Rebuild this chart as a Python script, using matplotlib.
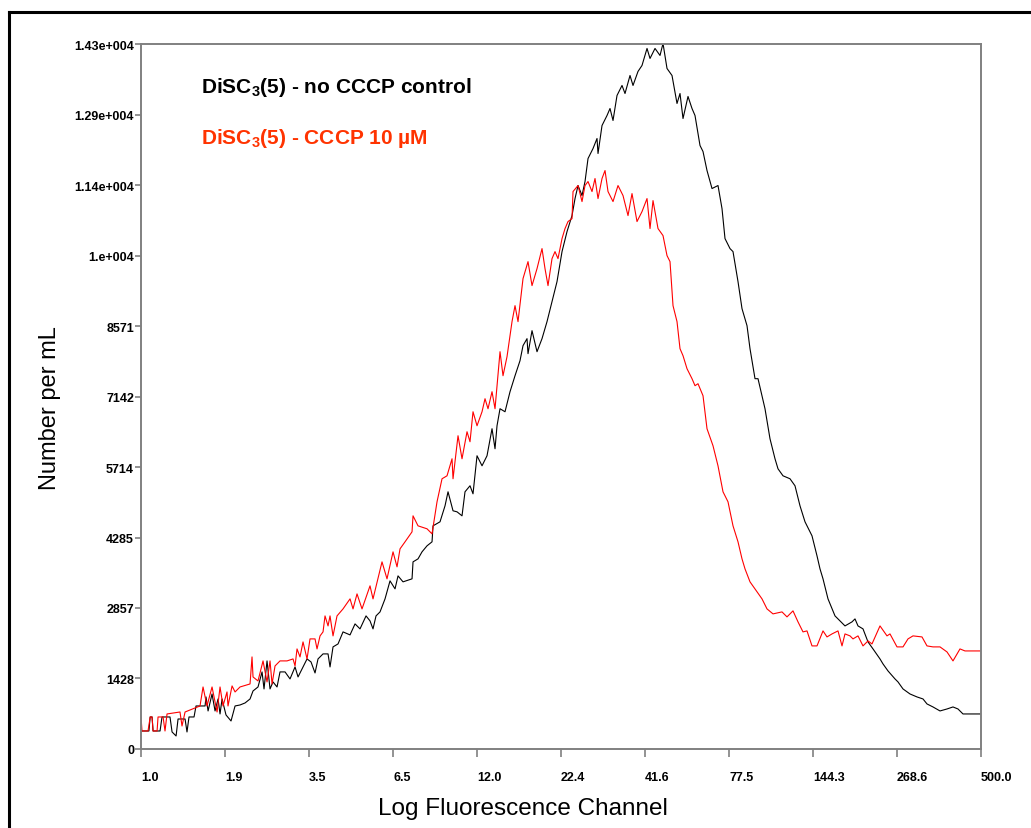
import matplotlib
matplotlib.use('Agg')
import matplotlib.pyplot as plt
from matplotlib.lines import Line2D

# histogram traces (channel, number per mL)
control_channel = [
    1.00, 1.03, 1.06, 1.07, 1.085, 1.093, 1.151, 1.168, 1.239, 1.258, 1.296, 1.315, 1.385, 1.405,
    1.426, 1.480, 1.502, 1.606, 1.617, 1.642, 1.691, 1.729, 1.768, 1.794, 1.821, 1.875, 1.946,
    2.005, 2.080, 2.159, 2.240, 2.290, 2.376, 2.448, 2.484, 2.540, 2.597, 2.655, 2.735, 2.796,
    2.902, 3.011, 3.125, 3.195, 3.266, 3.415, 3.517, 3.623, 3.704, 3.844, 3.989, 4.048, 4.139,
    4.295, 4.457, 4.694, 4.871, 5.054, 5.284, 5.442, 5.564, 5.689, 5.860, 6.081, 6.310, 6.548,
    6.695, 6.947, 7.426, 7.481, 7.763, 7.996, 8.297, 8.610, 8.674, 9.135, 9.479, 9.692, 10.057,
    10.359, 10.749, 10.990, 11.404, 11.660, 12.011, 12.464, 12.933, 13.421, 13.722, 13.926,
    14.239, 14.775, 15.332, 15.910, 16.509, 16.880, 17.387, 17.516, 18.042, 18.722, 19.427,
    20.159, 20.919, 21.707, 22.527, 23.376, 24.257, 24.801, 25.358, 26.119, 26.705, 27.305,
    28.334, 29.184, 29.401, 30.284, 31.425, 32.130, 32.852, 33.838, 35.113, 35.901, 37.254,
    38.090, 39.525, 40.712, 42.249, 43.197, 44.824, 46.513, 47.557, 48.985, 50.831, 52.746,
    53.930, 55.141, 57.218, 58.937, 60.259, 62.530, 63.934, 65.853, 68.335, 71.436, 73.581,
    75.232, 78.072, 79.824, 82.832, 85.319, 88.534, 90.521, 93.931, 96.039, 98.924, 101.14,
    104.95, 108.91, 111.35, 115.55, 121.69, 126.27, 131.03, 135.97, 143.20, 148.60, 151.94,
    155.35, 161.20, 169.77, 176.17, 182.80, 192.52, 196.84, 201.26, 208.84, 216.71, 224.88,
    236.83, 242.14, 251.27, 264.62, 270.58, 280.77, 295.69, 311.41, 325.54, 335.31, 350.53,
    369.17, 388.78, 406.43, 421.74, 437.64, 500.0,
]
control_count = [
    365, 365, 365, 649, 649, 365, 365, 649, 649, 345, 264, 608, 608, 345,
    649, 649, 872, 872, 1055, 771, 1115, 771, 1014, 710, 1014, 690, 568,
    872, 892, 933, 1014, 1176, 1257, 1562, 1217, 1785, 1217, 1359, 1257, 1562,
    1562, 1420, 1663, 1460, 1582, 1825, 1764, 1541, 1825, 1927, 1927, 1663, 2069,
    2129, 2373, 2312, 2535, 2434, 2697, 2596, 2434, 2697, 2778, 3042, 3407, 3245,
    3508, 3387, 3448, 3792, 3853, 3995, 4117, 4198, 4522, 4604, 4928, 5212, 4827,
    4806, 4725, 5212, 5334, 5171, 5942, 5739, 5942, 6490, 6084, 6550,
    6895, 6834, 7240, 7564, 7869, 8173, 8315, 8011, 8477, 8051, 8315,
    8660, 9065, 9471, 10079, 10485, 10809, 11154, 11418, 11215, 11499, 11965,
    12168, 12371, 12067, 12634, 12837, 12979, 12736, 13243, 13446, 13283, 13648,
    13446, 13730, 13851, 14196, 13993, 14196, 14054, 14297, 13790, 13648, 13081,
    13283, 12776, 13223, 12979, 12837, 12229, 12107, 11722, 11357, 11418, 10951,
    10343, 10140, 10079, 9471, 8923, 8578, 8112, 7504, 7504, 7159, 6895,
    6287, 5881, 5678, 5536, 5476, 5334, 4928, 4604, 4320, 3914, 3650,
    3448, 3042, 2697, 2596, 2494, 2576, 2636, 2494, 2434, 2170, 2028,
    1825, 1724, 1582, 1420, 1359, 1217, 1115, 1055, 1014, 913, 852,
    771, 811, 852, 811, 710, 710,
]

cccp_channel = [
    1.00, 1.007, 1.053, 1.07, 1.085, 1.093, 1.126, 1.134, 1.177, 1.194, 1.212, 1.334, 1.354,
    1.385, 1.547, 1.582, 1.629, 1.691, 1.755, 1.794, 1.834, 1.889, 1.903, 1.961, 2.005, 2.080,
    2.240, 2.273, 2.290, 2.376, 2.466, 2.540, 2.597, 2.636, 2.695, 2.796, 2.945, 3.079, 3.125,
    3.171, 3.242, 3.315, 3.415, 3.491, 3.623, 3.677, 3.760, 3.844, 3.901, 3.989, 4.048, 4.139,
    4.263, 4.457, 4.694, 4.799, 4.943, 5.129, 5.442, 5.564, 5.947, 6.171, 6.452, 6.646, 6.795,
    7.051, 7.426, 7.481, 7.763, 8.297, 8.610, 8.934, 9.271, 9.620, 9.983, 10.057, 10.436,
    10.749, 11.154, 11.404, 11.660, 12.011, 12.464, 12.743, 13.029, 13.421, 13.722, 14.239,
    14.558, 14.995, 15.561, 15.910, 16.267, 16.880, 17.516, 18.042, 18.722, 19.427, 19.863,
    20.309, 20.919, 21.388, 21.868, 22.527, 23.033, 23.549, 24.257, 24.437, 25.358, 26.119,
    26.705, 27.305, 28.125, 28.756, 29.401, 30.284, 30.964, 31.659, 32.852, 34.089, 35.374,
    36.707, 37.809, 39.234, 40.712, 42.249, 43.197, 44.166, 45.830, 47.557, 48.985, 50.085,
    51.209, 52.746, 53.930, 55.141, 56.797, 58.937, 60.259, 61.612, 63.934, 65.853, 68.842,
    71.436, 74.127, 76.920, 79.824, 82.832, 85.319, 87.233, 90.521, 95.332, 98.924, 102.65,
    107.31, 114.70, 119.02, 124.42, 129.11, 133.97, 138.00, 143.20, 148.60, 155.35, 160.01,
    166.04, 173.58, 178.79, 182.80, 189.69, 193.95, 201.26, 208.84, 216.71, 223.22, 236.83,
    249.41, 255.01, 268.58, 280.77, 291.35, 302.33, 323.14, 335.31, 350.53, 369.17, 388.78,
    406.43, 428.03, 444.16, 500.0,
]
cccp_count = [
    649, 365, 365, 649, 649, 365, 365, 649, 649, 365, 710, 750, 466,
    750, 872, 1257, 872, 1257, 750, 1257, 872, 1156, 872, 1278, 1156, 1257,
    1318, 1866, 1460, 1379, 1785, 1359, 1785, 1318, 1683, 1785, 1785, 1825, 1683,
    2028, 1866, 2170, 1825, 2231, 2231, 2028, 2292, 2373, 2697, 2494, 2697, 2292,
    2697, 2839, 3042, 2839, 3143, 2839, 3306, 3042, 3792, 3448, 3995, 3691, 4056,
    4198, 4401, 4725, 4522, 4462, 4360, 5009, 5476, 5536, 5881, 5476, 6348,
    5881, 6429, 6226, 6834, 6550, 6834, 7098, 6895, 7240, 6895, 8051,
    7564, 7950, 8660, 8984, 8660, 9532, 9876, 9390, 9734, 10140, 9734,
    9390, 9937, 10079, 9937, 10343, 10546, 10688, 10748, 11296, 11418, 11093,
    11418, 11499, 11296, 11560, 11154, 11560, 11722, 11296, 11093, 11418, 11215,
    10809, 11255, 10688, 10890, 11154, 10546, 11113, 10546, 10404, 9998, 9876,
    8984, 8660, 8112, 7970, 7706, 7504, 7362, 7402, 7159, 6490, 6145,
    5738, 5212, 5009, 4522, 4198, 3853, 3650, 3387, 3184, 3042, 2839,
    2738, 2778, 2677, 2799, 2576, 2373, 2393, 2089, 2089, 2393, 2271,
    2332, 2393, 2089, 2332, 2292, 2231, 2292, 2089, 2190, 2129, 2494,
    2292, 2332, 2069, 2069, 2231, 2292, 2271, 2089, 2069, 2069, 1967,
    1785, 2028, 1987, 1987,
]

x_ticks = [1.0, 1.8616, 3.4657, 6.4519, 12.011, 22.361, 41.628, 77.496, 144.27, 268.58, 500.0]
x_labels = ['1.0', '1.9', '3.5', '6.5', '12.0', '22.4', '41.6', '77.5', '144.3', '268.6', '500.0']
y_ticks = [k * 10000 / 7 for k in range(11)]
y_labels = ['0', '1428', '2857', '4285', '5714', '7142', '8571', '1.e+004',
            '1.14e+004', '1.29e+004', '1.43e+004']

plt.rcParams['font.family'] = ['Liberation Sans', 'DejaVu Sans']
plt.rcParams['mathtext.fontset'] = 'custom'
plt.rcParams['mathtext.rm'] = 'Liberation Sans:bold'
plt.rcParams['mathtext.bf'] = 'Liberation Sans:bold'


def main():
    fig = plt.figure(figsize=(10.31, 8.29), dpi=100)
    ax = fig.add_axes([0.1368, 0.0953, 0.8147, 0.8504])

    ax.plot(control_channel, control_count, color='black', lw=0.8)
    ax.plot(cccp_channel, cccp_count, color='#ff0000', lw=0.8)

    ax.set_xscale('log')
    ax.set_xlim(1.0, 500.0)
    ax.set_ylim(0, 100000 / 7)
    ax.minorticks_off()
    ax.set_xticks(x_ticks)
    ax.set_xticklabels(x_labels, ha='left', fontsize=9, fontweight='bold')
    ax.set_yticks(y_ticks)
    ax.set_yticklabels(y_labels, fontsize=9, fontweight='bold')
    ax.tick_params(axis='x', length=6, width=1.2, color='#808080', pad=10)
    ax.tick_params(axis='y', length=4, width=1.2, color='#808080', pad=1)
    for s in ax.spines.values():
        s.set_color('#808080')
        s.set_linewidth(1.4)

    ax.set_xlabel('Log Fluorescence Channel', fontsize=17.5)
    ax.xaxis.set_label_coords(0.455, -0.068)
    ax.set_ylabel('Number per mL', fontsize=17)
    ax.yaxis.set_label_coords(-0.095, 0.485)

    ax.text(0.0714, 0.940, r'DiSC$_{3}$(5) - no CCCP control', transform=ax.transAxes,
            fontsize=15, fontweight='bold', color='black', va='center')
    ax.text(0.0714, 0.867, r'DiSC$_{3}$(5) - CCCP 10 µM', transform=ax.transAxes,
            fontsize=15, fontweight='bold', color='#ff3300', va='center')

    # frame of the original figure, only left and top edges are in view
    fig.add_artist(Line2D([0.0092, 0.0092], [0.0, 0.9843], transform=fig.transFigure,
                          color='black', lw=2.2))
    fig.add_artist(Line2D([0.0092, 1.0], [0.9843, 0.9843], transform=fig.transFigure,
                          color='black', lw=2.2))

    fig.savefig('out.png', dpi=100)


main()
